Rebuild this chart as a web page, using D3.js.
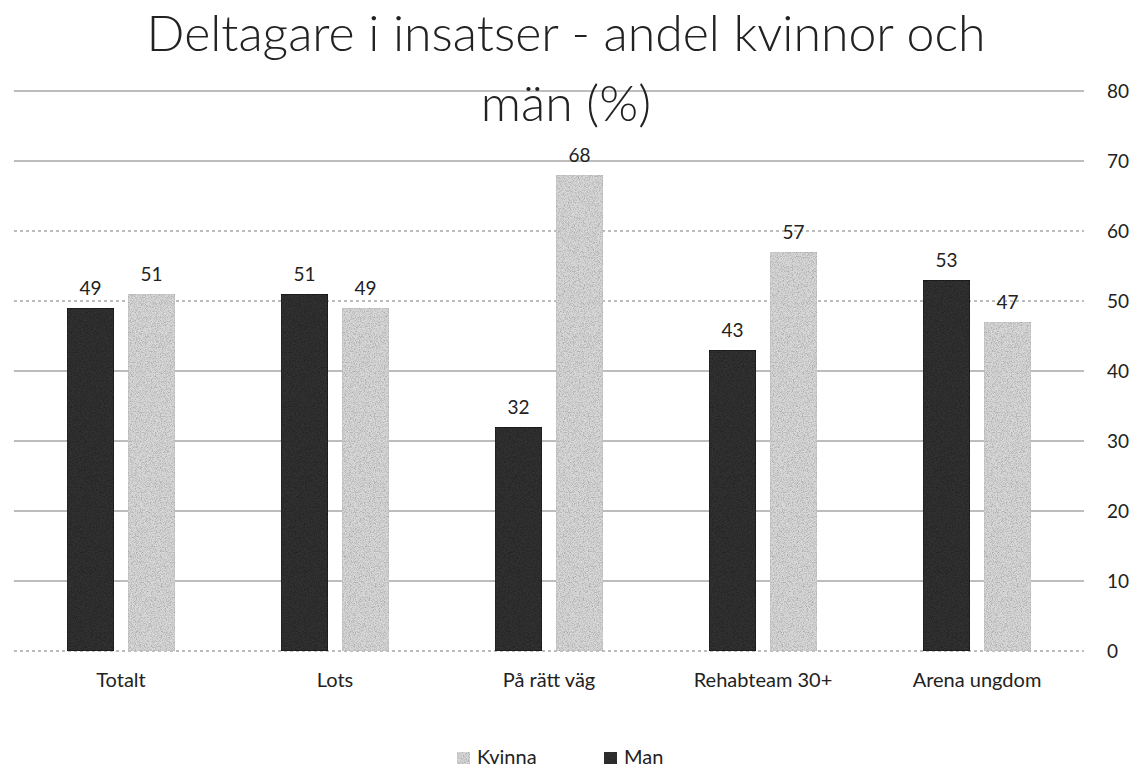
<!DOCTYPE html>
<html>
<head>
<meta charset="utf-8">
<script src="https://cdn.jsdelivr.net/npm/d3@7"></script>
<style>
  body { margin: 0; background: #fff; }
  svg { display: block; font-family: Lato, "Open Sans", sans-serif; }
</style>
</head>
<body>
<div id="chart"></div>
<script>
var categories = ["Totalt", "Lots", "På rätt väg", "Rehabteam 30+", "Arena ungdom"];
var manValues = [49, 51, 32, 43, 53];
var kvinnaValues = [51, 49, 68, 57, 47];
var seriesNames = ["Man", "Kvinna"];
var yTicks = [0, 10, 20, 30, 40, 50, 60, 70, 80];

var w = 1138, h = 769;
var plot = { left: 14, right: 1084, top: 91, bottom: 651 };

var svg = d3.select("#chart").append("svg")
    .attr("width", w)
    .attr("height", h);

// grainy fills, like the scan
var defs = svg.append("defs");
var grain = defs.append("filter").attr("id", "grain")
    .attr("x", 0).attr("y", 0).attr("width", 1).attr("height", 1);
grain.append("feTurbulence")
    .attr("type", "fractalNoise")
    .attr("baseFrequency", 1.2)
    .attr("numOctaves", 1)
    .attr("seed", 3)
    .attr("result", "noise");
grain.append("feColorMatrix")
    .attr("in", "noise")
    .attr("type", "matrix")
    .attr("values", "0 0 0 0 0  0 0 0 0 0  0 0 0 0 0  0 0 0 1.2 -0.5")
    .attr("result", "dots");
grain.append("feComposite")
    .attr("in", "dots")
    .attr("in2", "SourceGraphic")
    .attr("operator", "in")
    .attr("result", "dotsIn");
grain.append("feMerge").selectAll("feMergeNode")
    .data(["SourceGraphic", "dotsIn"])
    .enter().append("feMergeNode")
    .attr("in", function (d) { return d; });

var x0 = d3.scaleBand()
    .domain(categories)
    .range([plot.left, plot.right]);

var x1 = d3.scaleBand()
    .domain(seriesNames)
    .range([0, x0.bandwidth()])
    .paddingInner(0.23)
    .paddingOuter(0.87);

var y = d3.scaleLinear()
    .domain([0, 80])
    .range([plot.bottom, plot.top]);

var colors = { Man: "#333333", Kvinna: "#d8d8d8" };

// gridlines
svg.append("g")
    .selectAll("line")
    .data(yTicks)
    .enter()
    .append("line")
    .attr("x1", plot.left)
    .attr("x2", plot.right)
    .attr("y1", function (d) { return y(d); })
    .attr("y2", function (d) { return y(d); })
    .attr("stroke", "#7a7a7a")
    .attr("stroke-width", 1)
    .attr("stroke-dasharray", function (d) { return d === 0 || d === 60 || d === 50 ? "3,3" : null; });

// right axis
var yAxis = d3.axisRight(y).tickValues(yTicks).tickSize(0).tickPadding(0);
var gy = svg.append("g")
    .attr("transform", "translate(1107,0)")
    .call(yAxis);
gy.select(".domain").remove();
gy.selectAll("text")
    .attr("font-size", 19)
    .attr("fill", "#222")
    .attr("font-family", "Lato, 'Open Sans', sans-serif");

// bars
var rows = categories.map(function (c, i) {
    return { cat: c, vals: [
        { name: "Man", value: manValues[i] },
        { name: "Kvinna", value: kvinnaValues[i] }
    ] };
});

var groups = svg.append("g")
    .selectAll("g")
    .data(rows)
    .enter()
    .append("g")
    .attr("transform", function (d) { return "translate(" + x0(d.cat) + ",0)"; });

groups.selectAll("rect")
    .data(function (d) { return d.vals; })
    .enter()
    .append("rect")
    .attr("x", function (d) { return x1(d.name); })
    .attr("y", function (d) { return y(d.value); })
    .attr("width", x1.bandwidth())
    .attr("height", function (d) { return y(0) - y(d.value); })
    .attr("fill", function (d) { return colors[d.name]; })
    .attr("stroke", function (d) { return d.name === "Man" ? "#111" : "#c4c4c4"; })
    .attr("stroke-width", 1)
    .attr("filter", "url(#grain)");

groups.selectAll("text")
    .data(function (d) { return d.vals; })
    .enter()
    .append("text")
    .text(function (d) { return d.value; })
    .attr("x", function (d) { return x1(d.name) + x1.bandwidth() / 2; })
    .attr("y", function (d) { return y(d.value) - 13; })
    .attr("text-anchor", "middle")
    .attr("font-size", 19)
    .attr("fill", "#222");

// category axis
var xAxis = d3.axisBottom(x0).tickSize(0).tickPadding(0);
var gx = svg.append("g")
    .attr("transform", "translate(0,673)")
    .call(xAxis);
gx.select(".domain").remove();
gx.selectAll("text")
    .attr("font-size", 20)
    .attr("fill", "#222")
    .attr("dy", "0.71em")
    .attr("font-family", "Lato, 'Open Sans', sans-serif");

// title
var title = svg.append("text")
    .attr("text-anchor", "middle")
    .attr("font-size", 50)
    .attr("font-weight", 300)
    .attr("fill", "#222");
title.append("tspan").attr("x", 566).attr("y", 51).text("Deltagare i insatser - andel kvinnor och");
title.append("tspan").attr("x", 566).attr("y", 121).text("män (%)");

// legend
var legendItems = [
    { name: "Kvinna", x: 457 },
    { name: "Man", x: 604 }
];
var leg = svg.append("g")
    .selectAll("g")
    .data(legendItems)
    .enter()
    .append("g")
    .attr("transform", function (d) { return "translate(" + d.x + ",752)"; });
leg.append("rect")
    .attr("width", 13)
    .attr("height", 12)
    .attr("fill", function (d) { return colors[d.name]; })
    .attr("filter", "url(#grain)");
leg.append("text")
    .text(function (d) { return d.name; })
    .attr("x", 20)
    .attr("y", 12)
    .attr("font-size", 20)
    .attr("fill", "#222");
</script>
</body>
</html>
